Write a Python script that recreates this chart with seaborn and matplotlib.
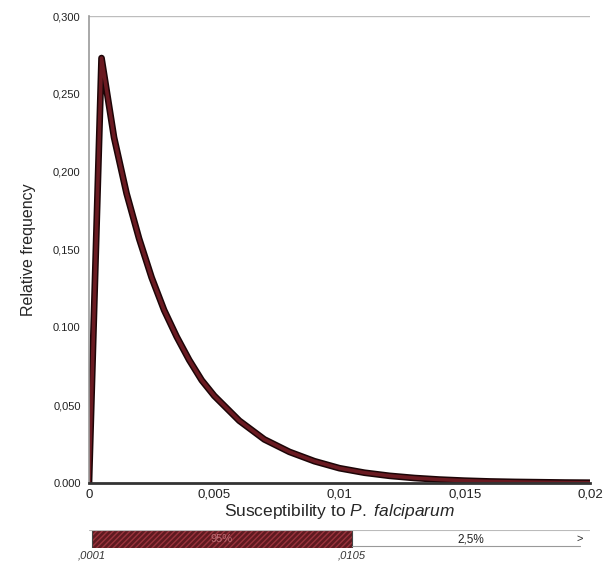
import matplotlib
matplotlib.use("Agg")
import matplotlib.pyplot as plt
import seaborn as sns
import pandas as pd

sns.set_style("white")
plt.rcParams['font.family'] = ['Liberation Sans', 'DejaVu Sans']
plt.rcParams['mathtext.fontset'] = 'custom'
plt.rcParams['mathtext.rm'] = 'Liberation Sans'
plt.rcParams['mathtext.it'] = 'Liberation Sans:italic'

# Data
susceptibility = [0, 0.0005, 0.001, 0.0015, 0.002, 0.0025, 0.003, 0.0035, 0.004, 0.0045,
                  0.005, 0.006, 0.007, 0.008, 0.009, 0.010, 0.011, 0.012, 0.013, 0.014,
                  0.015, 0.016, 0.017, 0.018, 0.019, 0.020]
rel_freq = [0, 0.273, 0.222, 0.186, 0.157, 0.132, 0.111, 0.094, 0.079, 0.066,
            0.056, 0.040, 0.028, 0.020, 0.014, 0.0095, 0.0066, 0.0046, 0.0032, 0.0022,
            0.0015, 0.0010, 0.0007, 0.0005, 0.0003, 0.0002]
x_ticks = [0, 0.005, 0.01, 0.015, 0.02]
x_tick_labels = ["0", "0,005", "0,01", "0,015", "0,02"]
y_ticks = [0, 0.05, 0.10, 0.15, 0.20, 0.25, 0.30]
y_tick_labels = ["0.000", "0,050", "0.100", "0,150", "0,200", "0,250", "0,300"]
interval_low, interval_high = 0.0001, 0.0105
interval_labels = [",0001", ",0105"]
central_pct, tail_pct = "95%", "2,5%"

df = pd.DataFrame({"x": susceptibility, "y": rel_freq})

fig = plt.figure(figsize=(6.05, 5.65), dpi=100)
ax = fig.add_axes([89/605, 82/565, 501/605, 467/565])
sns.lineplot(data=df, x="x", y="y", ax=ax, color="#1c0507", linewidth=4.8)
sns.lineplot(data=df, x="x", y="y", ax=ax, color="#6a1a21", linewidth=2.6)

ax.set_xlim(0, 0.02)
ax.set_ylim(0, 0.30)
ax.set_xticks(x_ticks)
ax.set_xticklabels(x_tick_labels, fontsize=9.5, color="#222222")
ax.set_yticks(y_ticks)
ax.set_yticklabels(y_tick_labels, fontsize=8, color="#222222")
ax.tick_params(axis="y", direction="out", length=5, color="#888888", width=1, pad=1)
ax.tick_params(axis="x", direction="in", length=4, color="#444444", width=1, pad=4)
for s in ["top", "right"]:
    ax.spines[s].set_visible(False)
ax.spines["left"].set_color("#9a9a9a")
ax.spines["left"].set_linewidth(1.2)
ax.spines["bottom"].set_color("#333333")
ax.spines["bottom"].set_linewidth(2)
ax.axhline(0.30, color="#bdbdbd", linewidth=1)
ax.set_xlabel("Susceptibility to $\\it{P.}$ $\\it{falciparum}$", fontsize=12.5, labelpad=1)
ax.set_ylabel("Relative frequency", fontsize=11.5, labelpad=12)

# Interval bar
ax2 = fig.add_axes([89/605, 17/565, 501/605, 18/565])
ax2.set_xlim(0, 0.02)
ax2.set_ylim(0, 1)
ax2.barh([0.5], [interval_high - interval_low], left=[interval_low], height=1,
         color="#5e1a20", edgecolor="#9a343d", hatch="//////", linewidth=0)
ax2.barh([0.5], [interval_high - interval_low], left=[interval_low], height=1,
         color="none", edgecolor="#444444", linewidth=0.8)
ax2.text((interval_low + interval_high) / 2, 0.5, central_pct, color="#c07078",
         ha="center", va="center", fontsize=8)
ax2.text((interval_high + 0.02) / 2, 0.5, tail_pct, color="#222222",
         ha="center", va="center", fontsize=8.5)
ax2.text(0.0196, 0.5, ">", ha="center", va="center", fontsize=8)
ax2.axhline(1, color="#bbbbbb", linewidth=0.8)
ax2.axhline(0.1, xmin=interval_high / 0.02, xmax=0.98, color="#999999", linewidth=0.8)
ax2.set_xticks([])
ax2.set_yticks([])
for s in ax2.spines.values():
    s.set_visible(False)
ax2.text(interval_low, -0.15, interval_labels[0], ha="center", va="top",
         fontsize=8, style="italic", color="#333333")
ax2.text(interval_high, -0.15, interval_labels[1], ha="center", va="top",
         fontsize=8, style="italic", color="#333333")

fig.savefig("out.png", dpi=100)
